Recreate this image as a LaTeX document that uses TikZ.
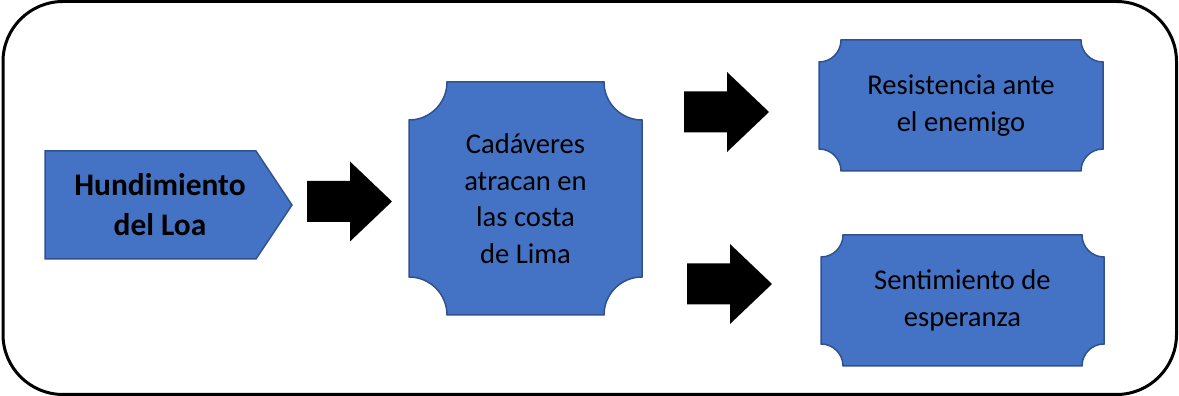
\documentclass[tikz,border=0pt]{standalone}
\usepackage{fontspec}
\setmainfont{Carlito}
\definecolor{plaqueblue}{RGB}{68,114,196}
\definecolor{plaqueedge}{RGB}{47,82,143}

\tikzset{
  plaque/.style={fill=plaqueblue, draw=plaqueedge, line width=0.75pt},
  blockarrow/.style={fill=black},
  boxtext/.style={align=center, inner sep=0pt, font=\fontsize{14.3}{18.3}\selectfont},
}

\begin{document}
\begin{tikzpicture}[x=0.5pt, y=0.5pt]
  \useasboundingbox (0,0) rectangle (1179,396);
  \draw[line width=1.5pt, rounded corners=30pt] (3,1.5) rectangle (1176.5,394.5);

  % first step, pointed box
  \draw[plaque] (45,137) -- (45,245) -- (256,245) -- (292,191) -- (256,137) -- cycle;
  \node[boxtext, font=\bfseries\fontsize{15.7}{20}\selectfont] (loa) at (160,191) {Hundimiento\\del Loa};

  % plaques with cut-in corners
  \foreach \xa/\ya/\xb/\yb/\r in {409/81/642/314/38, 819/225/1103/356/22, 821/30/1104/161/22}
    \draw[plaque] (\xa+\r,\yb) -- (\xb-\r,\yb) arc[start angle=180, end angle=270, radius=\r]
      -- (\xb,\ya+\r) arc[start angle=90, end angle=180, radius=\r]
      -- (\xa+\r,\ya) arc[start angle=0, end angle=90, radius=\r]
      -- (\xa,\yb-\r) arc[start angle=270, end angle=360, radius=\r] -- cycle;
  \node[boxtext] (cadaveres) at (525.5,197.5) {Cadáveres\\atracan en\\las costa\\de Lima};
  \node[boxtext] (resistencia) at (961,290.5) {Resistencia ante\\el enemigo};
  \node[boxtext] (sentimiento) at (962.5,95.5) {Sentimiento de\\esperanza};

  % block arrows
  \foreach \xs/\yc in {307/194.5, 684/284, 687/112}
    \fill[blockarrow] (\xs,\yc-20.5) -- (\xs+43,\yc-20.5) -- (\xs+43,\yc-40) -- (\xs+85,\yc)
      -- (\xs+43,\yc+40) -- (\xs+43,\yc+20.5) -- (\xs,\yc+20.5) -- cycle;
\end{tikzpicture}
\end{document}
